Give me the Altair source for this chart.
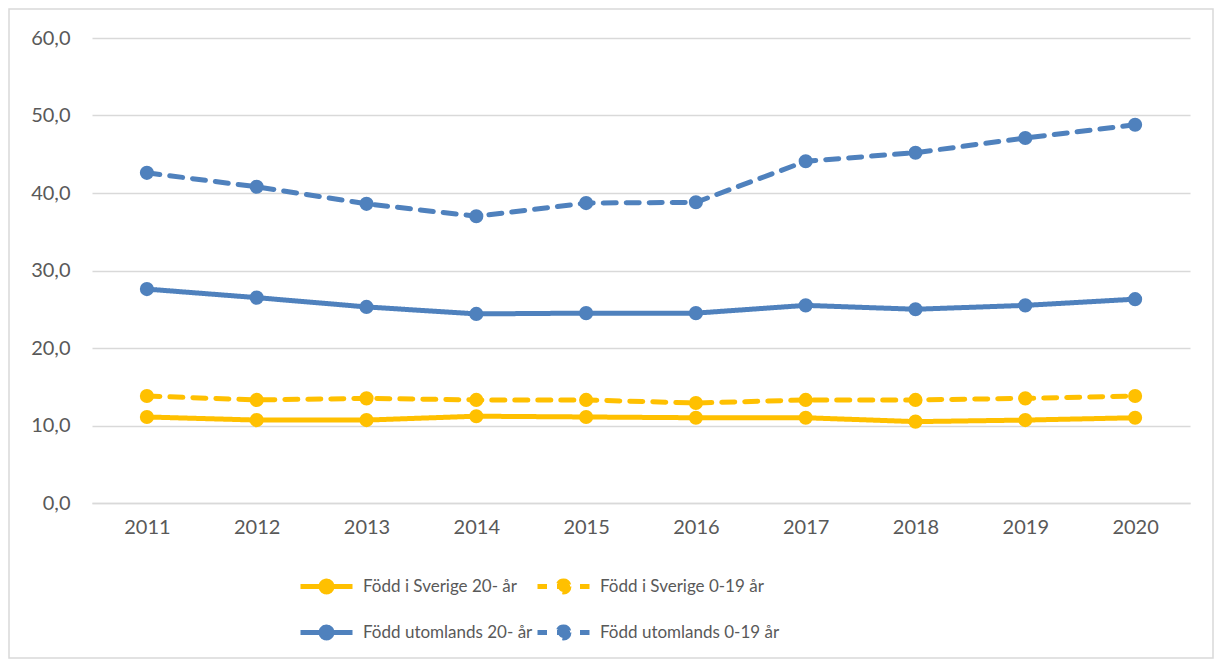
import altair as alt
import pandas as pd

years = [str(y) for y in range(2011, 2021)]
series_names = [
    "Född i Sverige 20- år",
    "Född i Sverige 0-19 år",
    "Född utomlands 20- år",
    "Född utomlands 0-19 år",
]
sverige_20 = [11.1, 10.7, 10.7, 11.2, 11.1, 11.0, 11.0, 10.5, 10.7, 11.0]
sverige_0_19 = [13.8, 13.3, 13.5, 13.3, 13.3, 12.9, 13.3, 13.3, 13.5, 13.8]
utomlands_20 = [27.6, 26.5, 25.3, 24.4, 24.5, 24.5, 25.5, 25.0, 25.5, 26.3]
utomlands_0_19 = [42.6, 40.8, 38.6, 37.0, 38.7, 38.8, 44.1, 45.2, 47.1, 48.8]
y_ticks = [0, 10, 20, 30, 40, 50, 60]

colors = ["#FFC000", "#FFC000", "#4F81BD", "#4F81BD"]
dashes = [[1, 0], [13, 10], [1, 0], [13, 10]]

rows = []
for name, vals in zip(series_names, [sverige_20, sverige_0_19, utomlands_20, utomlands_0_19]):
    for yr, v in zip(years, vals):
        rows.append({"År": yr, "Serie": name, "Värde": v})
df = pd.DataFrame(rows)

FONT = "Lato"
TXT = "#595959"
GRID = "#D9D9D9"

W, H = 1098, 465

color_enc = alt.Color(
    "Serie:N",
    scale=alt.Scale(domain=series_names, range=colors),
    sort=series_names,
    legend=alt.Legend(
        title=None,
        orient="none",
        direction="horizontal",
        legendX=219,
        legendY=533,
        columns=2,
        columnPadding=-6,
        rowPadding=15,
        symbolType="M-2,0H2M0.42,0A0.42,0.42 0 1 1 -0.42,0A0.42,0.42 0 1 1 0.42,0Z",
        symbolSize=676,
        symbolStrokeWidth=5,
        symbolDashOffset=3.5,
        labelFont=FONT,
        labelFontSize=17,
        labelColor=TXT,
        labelLimit=400,
        labelOffset=21,
    ),
)
dash_enc = alt.StrokeDash(
    "Serie:N",
    scale=alt.Scale(domain=series_names, range=dashes),
    sort=series_names,
    legend=alt.Legend(title=None),
)

x_enc = alt.X(
    "År:O",
    scale=alt.Scale(type="point", padding=0.5),
    axis=alt.Axis(
        title=None,
        labelAngle=0,
        ticks=False,
        grid=False,
        domainColor=GRID,
        domainWidth=1.5,
        labelFont=FONT,
        labelFontSize=20,
        labelColor=TXT,
        labelPadding=14,
    ),
)
y_enc = alt.Y(
    "Värde:Q",
    scale=alt.Scale(domain=[0, 60], nice=False),
    axis=alt.Axis(
        title=None,
        values=y_ticks,
        domain=False,
        ticks=False,
        gridColor=GRID,
        gridWidth=1.5,
        labelFont=FONT,
        labelFontSize=20,
        labelColor=TXT,
        labelPadding=22,
        labelExpr="replace(format(datum.value, '.1f'), '.', ',')",
    ),
)

base = alt.Chart(df)

lines = base.mark_line(strokeWidth=5, strokeCap="round", strokeJoin="round").encode(
    x=x_enc, y=y_enc, color=color_enc, strokeDash=dash_enc
)
points = base.mark_point(filled=True, size=200, opacity=1).encode(
    x=x_enc, y=y_enc, color=color_enc
)

frame = alt.Chart(pd.DataFrame({"f": [0]})).mark_rect(
    fillOpacity=0, stroke=GRID, strokeWidth=1.5
).encode(
    x=alt.value(-83), x2=alt.value(1121), y=alt.value(-29), y2=alt.value(620)
)

chart = (
    alt.layer(frame, lines, points)
    .properties(width=W, height=H, padding=0)
    .configure_view(strokeWidth=0)
)

chart.save("out.html", embed_options={"renderer": "svg", "actions": False})
